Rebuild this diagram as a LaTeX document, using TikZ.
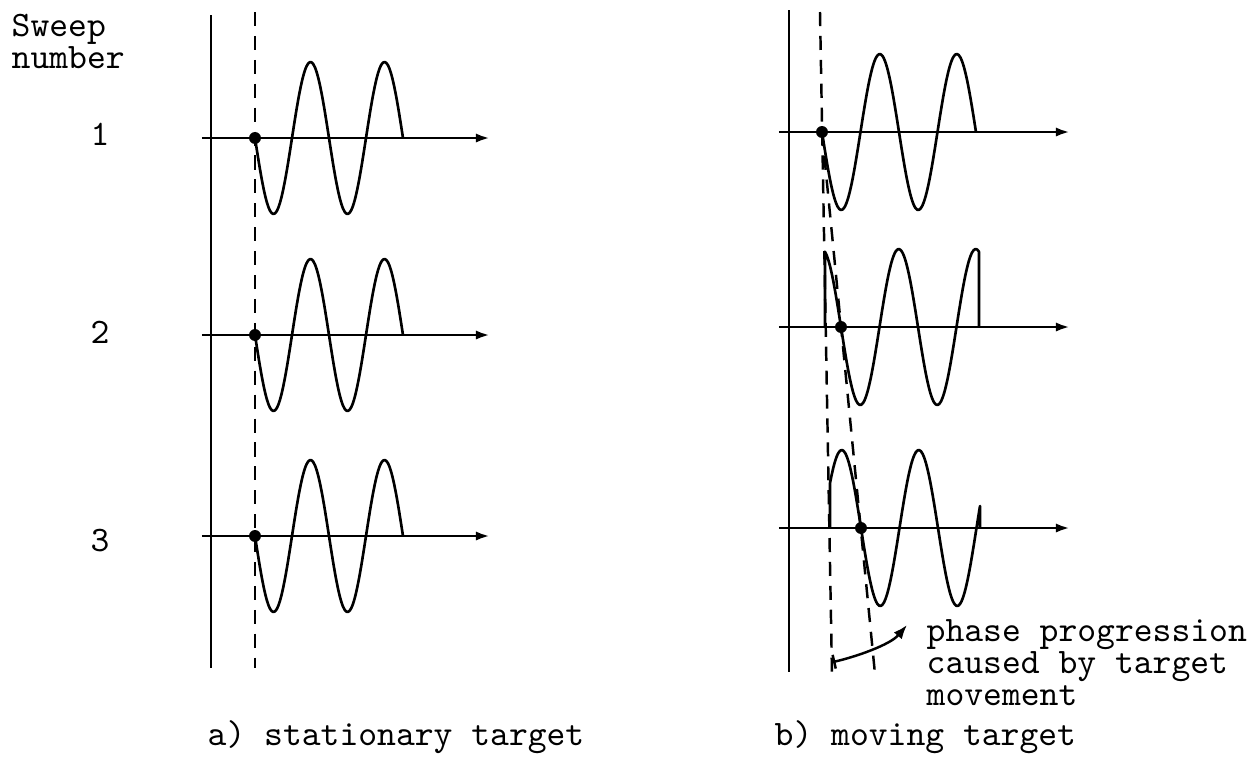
\documentclass[tikz,border=0pt]{standalone}
\usepackage{tikz}
\usetikzlibrary{arrows.meta,positioning,calc}

\tikzset{
  axisline/.style={line width=0.8pt,-{Latex[length=4pt,width=2.6pt]}},
  wave/.style={line width=0.75pt,line join=round},
  guide/.style={line width=0.7pt,dash pattern=on 4pt off 2.8pt},
  phasedot/.style={circle,fill,inner sep=0pt,minimum size=3.4pt},
  typed/.style={font=\fontsize{10.2}{9.1}\selectfont\ttfamily,inner sep=0pt},
}

\begin{document}
\begin{tikzpicture}[x=0.01cm,y=-0.01cm]
\useasboundingbox (0,0) rectangle (1259,760);

% sweep labels
\node[typed,anchor=north west,align=left] (sweeptitle) at (11,13) {Sweep\\number};
\foreach \n/\yy in {1/134,2/332,3/541}
  \node[typed] (num\n) at (100,\yy) {\n};

% a) stationary target
\draw[line width=0.8pt] (211,15) -- (211,668);
\draw[guide] (255,12) -- (255,668);
\foreach \yy in {138,335,536} {
  \draw[axisline] (202,\yy) -- (490,\yy);
  \draw[wave] plot[domain=255:403,samples=90,smooth] (\x,{\yy+76*sin(((\x-255)/74)*360)});
  \node[phasedot] at (255,\yy) {};
}

% b) moving target
\draw[line width=0.8pt] (789,10) -- (789,672);
\draw[guide] (820,12) -- (832,674);
\draw[guide] (822,132) -- (875,674);
\foreach \yy/\xs/\xd/\xe in {132/822/822/976, 327/825/841/979, 528/830/861/980} {
  \draw[axisline] (779,\yy) -- (1070,\yy);
  \draw[wave] (\xs,\yy) -- plot[domain=\xs:\xe,samples=90,smooth] (\x,{\yy+78*sin(((\x-\xd)/77)*360)}) -- (\xe,\yy);
  \node[phasedot] at (\xd,\yy) {};
}

% note on the phase shift
\node[typed,anchor=north west,align=left] (note) at (926,619) {phase progression\\caused by target\\movement};
\coordinate (arrbase) at (833,662);
\coordinate (arrtip) at (907,625);
\draw[line width=0.7pt,{Bar[width=4pt]}-{Latex[length=4pt,width=3pt]}]
    (arrbase) .. controls +(22,-5) and +(-17,20) .. (arrtip);

% captions
\node[typed,anchor=west] (capa) at (207,737) {a) stationary target};
\node[typed,anchor=west] (capb) at (774,737) {b) moving target};
\end{tikzpicture}
\end{document}
